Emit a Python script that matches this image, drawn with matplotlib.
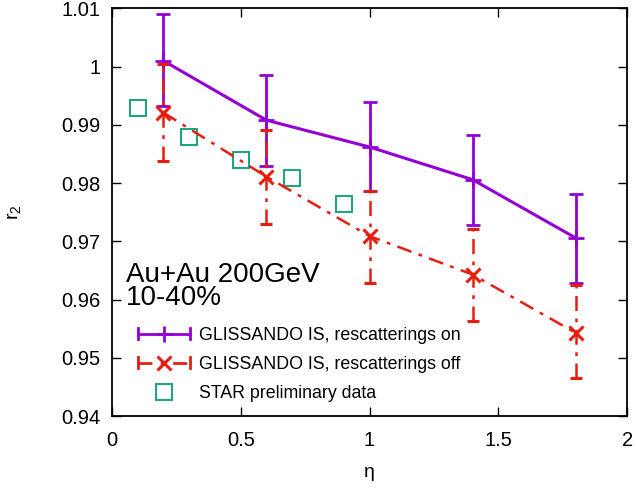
import matplotlib
matplotlib.use("Agg")
import matplotlib.pyplot as plt
from matplotlib.lines import Line2D
from matplotlib.legend_handler import HandlerBase
import numpy as np

plt.rcParams['font.family'] = ['Liberation Sans', 'DejaVu Sans']
plt.rcParams['mathtext.default'] = 'regular'

# model points (eta, r2, lower, upper)
eta_model = [0.2, 0.6, 1.0, 1.4, 1.8]
r2_on = [1.0010, 0.9908, 0.9862, 0.9806, 0.9706]
lo_on = [0.9932, 0.9830, 0.9787, 0.9728, 0.9628]
hi_on = [1.0090, 0.9985, 0.9939, 0.9883, 0.9781]
r2_off = [0.9921, 0.9811, 0.9709, 0.9643, 0.9543]
lo_off = [0.9838, 0.9730, 0.9628, 0.9563, 0.9466]
hi_off = [1.0004, 0.9892, 0.9787, 0.9721, 0.9625]

# STAR preliminary
eta_star = [0.1, 0.3, 0.5, 0.7, 0.9]
r2_star = [0.9929, 0.9879, 0.9839, 0.9808, 0.9764]

xticks = [0, 0.5, 1, 1.5, 2]
xticklabels = ['0', '0.5', '1', '1.5', '2']
yticks = [0.94, 0.95, 0.96, 0.97, 0.98, 0.99, 1.0, 1.01]
yticklabels = ['0.94', '0.95', '0.96', '0.97', '0.98', '0.99', '1', '1.01']

purple = '#9400d3'
red = '#e51e10'
green = '#009e73'


class GnuplotErrHandler(HandlerBase):
    # horizontal sample with end caps and a centre marker, like gnuplot keys
    def __init__(self, color, ls, marker, ms, mew):
        super().__init__()
        self.color, self.ls, self.marker, self.ms, self.mew = color, ls, marker, ms, mew

    def create_artists(self, legend, orig_handle, xdescent, ydescent,
                       width, height, fontsize, trans):
        y = height / 2 - ydescent
        x0, x1 = -xdescent, width - xdescent
        arts = [Line2D([x0, x1], [y, y], color=self.color, ls=self.ls, lw=2)]
        for xc in (x0, x1):
            arts.append(Line2D([xc, xc], [y - 4, y + 4], color=self.color, lw=2))
        arts.append(Line2D([(x0 + x1) / 2], [y], color=self.color, marker=self.marker,
                           ms=self.ms, mew=self.mew, ls='none'))
        for a in arts:
            a.set_transform(trans)
        return arts


fig = plt.figure(figsize=(6.36, 4.93), dpi=100)
ax = fig.add_axes([0.176, 0.156, 0.81, 0.827])

err_on = [np.subtract(r2_on, lo_on), np.subtract(hi_on, r2_on)]
err_off = [np.subtract(r2_off, lo_off), np.subtract(hi_off, r2_off)]

ax.errorbar(eta_model, r2_on, yerr=err_on, color=purple, lw=2.2, marker='+', ms=12, mew=2,
            capsize=5, capthick=2, elinewidth=2, zorder=3)
eb = ax.errorbar(eta_model, r2_off, yerr=err_off, color=red, lw=1.8, marker='x', ms=10, mew=2.2,
                 capsize=4, capthick=2, elinewidth=1.8, zorder=4)
eb[0].set_dashes([6, 3, 1.5, 3])
for c in eb[2]:
    c.set_linestyle((0, (6, 3, 1.5, 3)))
ax.plot(eta_star, r2_star, ls='none', marker='s', ms=11, mfc='none', mec=green, mew=1.3, zorder=2)

ax.set_xlim(0, 2)
ax.set_ylim(0.94, 1.01)
ax.set_xticks(xticks)
ax.set_xticklabels(xticklabels)
ax.set_yticks(yticks)
ax.set_yticklabels(yticklabels)
ax.tick_params(direction='in', length=6.5, width=1, labelsize=14.5, top=True, right=True)
ax.tick_params(axis='x', pad=11)
ax.tick_params(axis='y', pad=8)
for s in ax.spines.values():
    s.set_linewidth(1.3)

ax.set_xlabel('η', fontsize=14, labelpad=10)
ax.set_ylabel('r$_2$', fontsize=14, labelpad=28)

ax.text(0.054, 0.9665, 'Au+Au 200GeV\n10-40%', fontsize=20, va='top', ha='left', linespacing=0.88)

h1 = Line2D([], [], color=purple)
h2 = Line2D([], [], color=red)
h3 = Line2D([], [], color=green, marker='s', ls='none', mfc='none', ms=11, mew=1.3)
ax.legend([h1, h2, h3],
          ['GLISSANDO IS, rescatterings on', 'GLISSANDO IS, rescatterings off', 'STAR preliminary data'],
          handler_map={h1: GnuplotErrHandler(purple, '-', '+', 12, 2),
                       h2: GnuplotErrHandler(red, (0, (5, 3, 1.5, 3)), 'x', 10, 2.2)},
          loc='lower left', bbox_to_anchor=(0.02, -0.005), frameon=False, fontsize=12.8,
          handlelength=2.9, handletextpad=0.5, labelspacing=0.68)

fig.savefig('out.png', dpi=100)
